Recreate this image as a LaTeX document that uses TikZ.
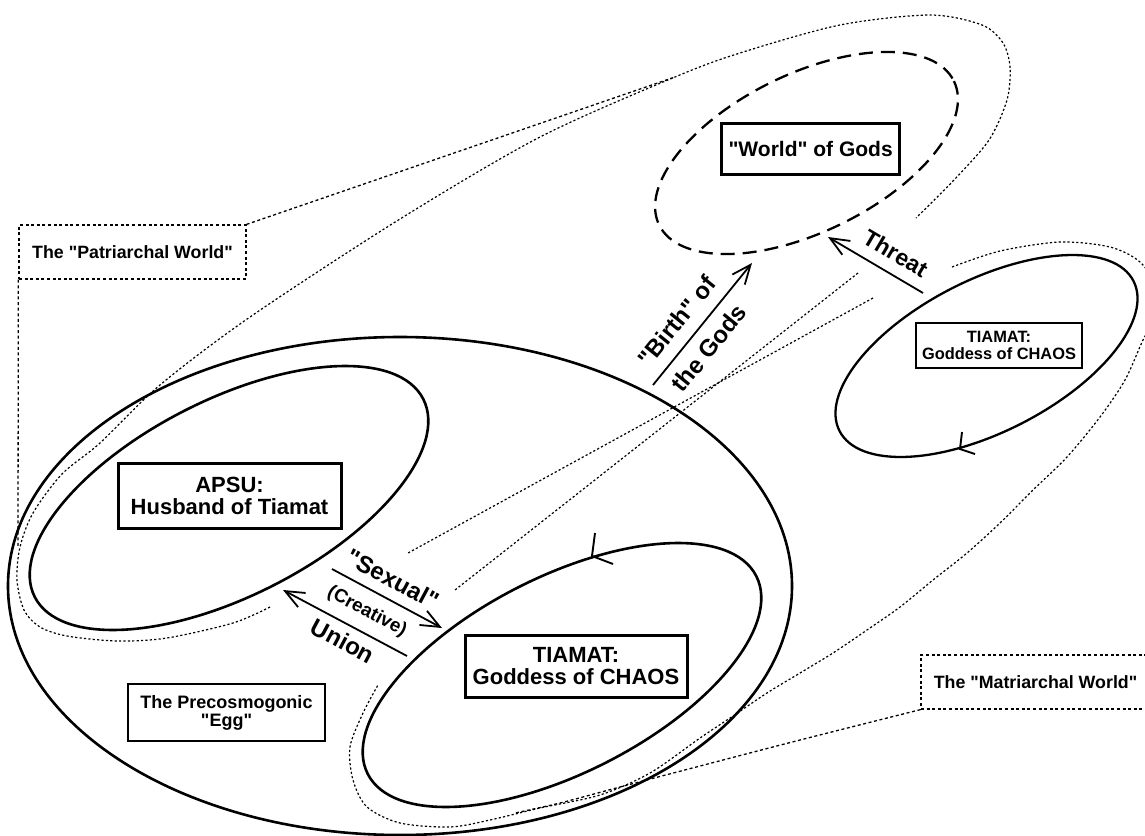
\documentclass[tikz,border=0pt]{standalone}
\usepackage{fontspec}
\setmainfont{Liberation Sans}[Ligatures=TeXOff]
\usetikzlibrary{arrows.meta}
\newcommand{\myfs}[1]{\bfseries\fontsize{#1}{#1}\selectfont}
\tikzset{
  solidell/.style={line width=2.6pt},
  godsell/.style={line width=2.3pt, dash pattern=on 14pt off 8pt},
  dotline/.style={line width=1.2pt, dash pattern=on 2.2pt off 2.2pt},
  calloutline/.style={line width=1.3pt, dash pattern=on 3pt off 2.6pt},
  calloutbox/.style={draw, line width=1.3pt, dash pattern=on 3pt off 2.6pt, inner sep=0pt},
  labelbox/.style={draw, line width=3pt, inner sep=0pt, align=center},
  relarrow/.style={line width=1.8pt, -{Straight Barb[length=19pt,width=16pt,line width=1.8pt]}},
  tickmark/.style={line width=1.9pt},
  arrowlabel/.style={inner sep=0pt, font=\myfs{24}},
}
\begin{document}
\begin{tikzpicture}[x=1pt,y=-1pt]
\useasboundingbox (0,0) rectangle (1145,835);
\clip (0,0) rectangle (1145,835);

% ellipses
\draw[solidell] (400,586) ellipse [x radius=392, y radius=249];
\draw[solidell, rotate around={27:(229,498)}] (229,498) ellipse [x radius=218, y radius=98];
\draw[solidell, rotate around={27:(562,675)}] (562,675) ellipse [x radius=218, y radius=98];
\draw[solidell, line width=2.3pt, rotate around={27:(986.5,356)}] (986.5,356) ellipse [x radius=165, y radius=76];
\draw[godsell, rotate around={26:(806.5,153)}] (806.5,153) ellipse [x radius=164, y radius=79];

% direction ticks
\draw[tickmark] (595,533) -- (592,556) -- (613,564);
\draw[tickmark] (962,432) -- (960,449) -- (975,454);

% boxes
\node[labelbox, minimum width=178pt, minimum height=51pt, font=\myfs{21}] (gods) at (810.6,148.5) {"World" of Gods};
\node[labelbox, minimum width=223pt, minimum height=65pt, font=\myfs{22}] (apsu) at (229.5,495.5) {APSU:\\Husband of Tiamat};
\node[labelbox, minimum width=222pt, minimum height=62pt, font=\myfs{22}] (tiamat) at (576,666) {TIAMAT:\\Goddess of CHAOS};
\node[labelbox, minimum width=166pt, minimum height=45pt, line width=2.6pt, font=\myfs{16.4}] (tiamatR) at (999,345.5) {TIAMAT:\\Goddess of CHAOS};
\node[labelbox, minimum width=197pt, minimum height=57pt, line width=2.6pt, font=\myfs{18}] (egg) at (226.5,712.5) {The Precosmogonic\\"Egg"};

% callout boxes
\node[calloutbox, minimum width=227pt, minimum height=54pt, font=\myfs{17.8}] (patr) at (132.5,252) {The "Patriarchal World"};
\node[calloutbox, minimum width=229pt, minimum height=54pt, font=\myfs{17.8}] (matr) at (1035.5,682) {The "Matriarchal World"};

\coordinate (pjoinTop) at (675,77);
\coordinate (pjoinLeft) at (18,547);
\draw[calloutline] (patr.north east) -- (pjoinTop);
\draw[calloutline] (patr.south west) -- (pjoinLeft);
\draw[calloutline] plot[smooth] coordinates {(matr.south west) (800,740) (700,766) (620,787) (560,803) (515,813)};

% patriarchal loop
\draw[dotline] plot[smooth] coordinates {(270,607) (233,623) (167,638) (117,641) (67,636) (40,627) (24,610) (17,580) (20,547) (33,513) (62,474) (100,443) (160,385) (250,317) (400,219) (540,137) (675,77) (740,53) (840,25) (930,15) (982,25) (1003,43) (1010,67) (1007,100) (989,140) (954,180) (916,218)};
\coordinate (pA) at (858,273);
\coordinate (pB) at (455,590);
\draw[dotline] (pA) -- (pB);

% matriarchal loop
\coordinate (mA) at (873,298);
\coordinate (mB) at (408,553);
\draw[dotline] (mA) -- (mB);
\draw[dotline] plot[smooth] coordinates {(952,267) (1000,251) (1060,242) (1110,247) (1140,262) (1158,290) (1155,318) (1143,340) (1125,380) (1100,417) (1067,457) (1033,490) (1000,523) (967,553) (933,580) (900,607) (867,630) (833,653) (800,673) (767,693) (730,718) (700,738) (650,773) (600,795) (540,808) (490,820) (450,827) (400,823) (367,807) (353,780) (350,747) (363,713) (378,685)};

% arrows
\coordinate (sexT) at (332,569); \coordinate (sexH) at (442,628);
\coordinate (uniT) at (407,656); \coordinate (uniH) at (283,590);
\coordinate (birT) at (653,385); \coordinate (birH) at (752,263);
\coordinate (thrT) at (923,293); \coordinate (thrH) at (828,237);
\draw[relarrow] (sexT) -- (sexH);
\draw[relarrow] (uniT) -- (uniH);
\draw[relarrow] (birT) -- (birH);
\draw[relarrow] (thrT) -- (thrH);

% arrow labels
\node[arrowlabel, rotate=-28.2] (lsex) at (393,579) {"Sexual"};
\node[arrowlabel, font=\myfs{18.8}, rotate=-28.2] (lcre) at (367,612) {(Creative)};
\node[arrowlabel, rotate=-28.2] (luni) at (343,641) {Union};
\node[arrowlabel, rotate=51] (lbir1) at (677,321) {"Birth" of};
\node[arrowlabel, rotate=51] (lbir2) at (709,348) {the Gods};
\node[arrowlabel, font=\myfs{23}, rotate=-30.6] (lthr) at (896,253) {Threat};
\end{tikzpicture}
\end{document}
